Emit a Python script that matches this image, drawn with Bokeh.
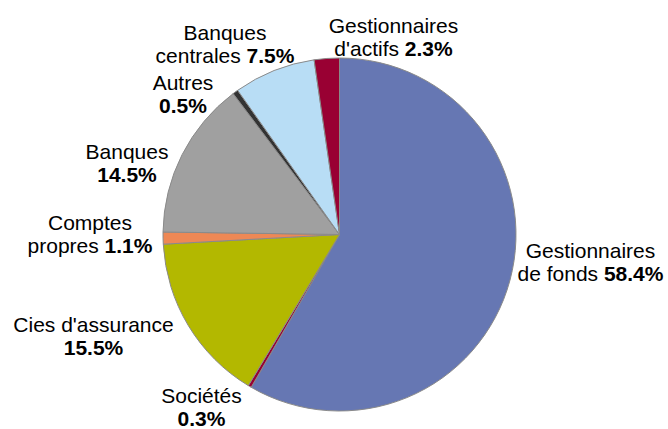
import math
from bokeh.plotting import figure
from bokeh.models import ColumnDataSource, Range1d
from bokeh.core.properties import value
from bokeh.embed import file_html
from bokeh.resources import INLINE

# ---- data ----
categories = ["Gestionnaires\nde fonds", "Sociétés", "Cies d'assurance", "Comptes\npropres",
              "Banques", "Autres", "Banques\ncentrales", "Gestionnaires\nd'actifs"]
values = [58.4, 0.3, 15.5, 1.1, 14.5, 0.5, 7.5, 2.3]
colors = ["#6677B3", "#990033", "#B3B800", "#EE8855", "#A0A0A0", "#333333", "#B8DDF5", "#990033"]

# ---- layout (pixels) ----
W, H = 668, 429
CX, CY, R = 339, 195, 176.5
FONT = "Liberation Sans"
FS = 21
LINE = 23
# label anchor: centre x / first baseline, offset from the pie centre (dx right, dy up)
label_offsets = [(251, -16), (-138, -161), (-246, -90), (-249.5, 12),
                 (-212.5, 83), (-156.5, 152), (-114.5, 202), (54, 209)]

REG = {"G": 778, "e": 556, "s": 500, "t": 278, "i": 222, "o": 556, "n": 556, "a": 556,
       "r": 333, " ": 278, "d": 556, "f": 278, "S": 667, "c": 500, "é": 556, "C": 722,
       "u": 556, "'": 191, "m": 833, "p": 556, "B": 667, "q": 556, "A": 667, "l": 222}
BOLD = {"0": 556, "1": 556, "2": 556, "3": 556, "4": 556, "5": 556, "6": 556, "7": 556,
        "8": 556, "9": 556, ".": 278, "%": 889}


def width(s, table):
    return sum(table.get(ch, 556) for ch in s) * FS / 1000.0


total = sum(values)
starts, ends = [], []
cum = 0.0
for v in values:
    starts.append(math.pi / 2 - 2 * math.pi * cum / total)
    cum += v
    ends.append(math.pi / 2 - 2 * math.pi * cum / total)

p = figure(width=W, height=H, output_backend="svg", toolbar_location=None,
           x_range=Range1d(0, W), y_range=Range1d(0, H), min_border=0)
p.axis.visible = False
p.grid.visible = False
p.outline_line_color = None
p.background_fill_color = "white"
p.border_fill_color = "white"

src = ColumnDataSource(dict(start=starts, end=ends, color=colors))
p.wedge(x=CX, y=CY, radius=R, start_angle="start", end_angle="end", direction="clock",
        fill_color="color", line_color="#8A8A8A", line_width=1, source=src)

nx, ny, nt, bx, by, bt = [], [], [], [], [], []
for cat, v, (dx, dy) in zip(categories, values, label_offsets):
    pct = f"{v:.1f}%"
    parts = cat.split("\n")
    if len(parts) == 1:
        lines = [(parts[0], ""), ("", pct)]
    else:
        lines = [(parts[0], ""), (parts[1] + " ", pct)]
    cx = CX + dx
    base = CY + dy
    for i, (reg, bold) in enumerate(lines):
        wr = width(reg, REG)
        wb = width(bold, BOLD)
        x0 = cx - (wr + wb) / 2
        y = base - i * LINE
        if reg:
            nx.append(x0); ny.append(y); nt.append(reg)
        if bold:
            bx.append(x0 + wr); by.append(y); bt.append(bold)

p.text(x="x", y="y", text="t", source=ColumnDataSource(dict(x=nx, y=ny, t=nt)),
       text_font=value(FONT), text_font_size=f"{FS}px", text_align="left",
       text_baseline="alphabetic", text_color="#000000")
p.text(x="x", y="y", text="t", source=ColumnDataSource(dict(x=bx, y=by, t=bt)),
       text_font=value(FONT), text_font_size=f"{FS}px", text_font_style="bold",
       text_align="left", text_baseline="alphabetic", text_color="#000000")

open("out.html", "w").write(file_html(p, INLINE))
